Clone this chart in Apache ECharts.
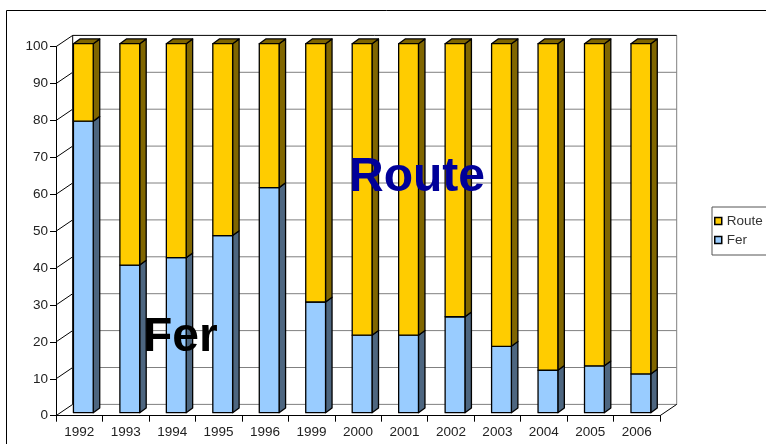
<!DOCTYPE html>
<html>
<head>
<meta charset="utf-8">
<script src="https://cdn.jsdelivr.net/npm/echarts@6/dist/echarts.min.js"></script>
<style>html,body{margin:0;padding:0;background:#fff}#c{width:766px;height:444px}</style>
</head>
<body>
<div id="c"></div>
<script>
var years = ['1992','1993','1994','1995','1996','1999','2000','2001','2002','2003','2004','2005','2006'];
var fer   = [79, 40, 42, 48, 61, 30, 21, 21, 26, 18, 11.5, 12.7, 10.5];
var route = [21, 60, 58, 52, 39, 70, 79, 79, 74, 82, 88.5, 87.3, 89.5];
var yTicks = [0,10,20,30,40,50,60,70,80,90,100];

var FONT = 'Liberation Sans, Arial, sans-serif';
var DX = 16.7, DY = -11.3;      // depth of the back wall
var SX = 6.5, SY = -4.8;        // depth of each bar
var BAR_DY = -3;
var FACE_L = -5.8, FACE_R = 14;

function wallItem(params, api) {
  var v = api.value(0);
  var bw = api.size([1, 0])[0];
  var p = api.coord([0, v]);
  var q = api.coord([years.length - 1, v]);
  var xl = p[0] - bw / 2, xr = q[0] + bw / 2, y = p[1];
  var ch = [];
  ch.push({type:'line', shape:{x1:xl, y1:y, x2:xl+DX, y2:y+DY}, style:{stroke:'#000', lineWidth:1}});
  ch.push({type:'line', shape:{x1:xl+DX, y1:y+DY, x2:xr+DX, y2:y+DY}, style:{stroke: v===100 ? '#000' : '#808080', lineWidth:1}});
  if (v === 0) {
    var t = api.coord([0, 100])[1];
    ch.push({type:'line', shape:{x1:xl+DX, y1:y+DY, x2:xl+DX, y2:t+DY}, style:{stroke:'#000', lineWidth:1}});
    ch.push({type:'line', shape:{x1:xr+DX, y1:y+DY, x2:xr+DX, y2:t+DY}, style:{stroke:'#808080', lineWidth:1}});
    ch.push({type:'line', shape:{x1:xr, y1:y, x2:xr+DX, y2:y+DY}, style:{stroke:'#000', lineWidth:1}});
  }
  return {type:'group', children:ch};
}

function makeBar(front, side) {
  return function (params, api) {
    var i = api.value(0), lo = api.value(1), hi = api.value(2);
    var p0 = api.coord([i, lo]), p1 = api.coord([i, hi]);
    var cx = p0[0], yb = p0[1] + BAR_DY, yt = p1[1] + BAR_DY;
    var xl = cx + FACE_L, xr = cx + FACE_R;
    var st = {stroke:'#000', lineWidth:1.3, lineJoin:'round'};
    var ch = [];
    ch.push({type:'polygon', shape:{points:[[xr,yb],[xr+SX,yb+SY],[xr+SX,yt+SY],[xr,yt]]},
             style:Object.assign({fill:side}, st)});
    if (hi >= 100) {
      ch.push({type:'polygon', shape:{points:[[xl,yt],[xl+SX,yt+SY],[xr+SX,yt+SY],[xr,yt]]},
               style:Object.assign({fill:side}, st)});
    }
    ch.push({type:'rect', shape:{x:xl, y:yt, width:xr-xl, height:yb-yt},
             style:Object.assign({fill:front}, st)});
    return {type:'group', children:ch};
  };
}

var ferData = fer.map(function (v, i) { return [i, 0, v]; });
var routeData = route.map(function (v, i) { return [i, fer[i], fer[i] + v]; });

var chart = echarts.init(document.getElementById('c'), null, {renderer:'canvas'});
chart.setOption({
  animation: false,
  backgroundColor: '#fff',
  textStyle: {fontFamily: FONT},
  grid: {left: 56, right: 106, top: 46.7, bottom: 28.3, containLabel: false},
  legend: {
    data: ['Route', 'Fer'],
    orient: 'vertical',
    left: 712, top: 207,
    padding: [7, 30, 8, 2],
    itemGap: 5,
    itemWidth: 7, itemHeight: 7,
    icon: 'rect',
    borderColor: '#555', borderWidth: 1,
    backgroundColor: '#fff',
    textStyle: {fontFamily: FONT, fontSize: 13.5, color: '#333'},
    itemStyle: {borderColor: '#000', borderWidth: 1.5}
  },
  xAxis: {
    type: 'category',
    data: years,
    boundaryGap: true,
    axisLine: {show: true, lineStyle: {color: '#000', width: 1}},
    axisTick: {show: true, interval: 0, length: 6, lineStyle: {color: '#000'}},
    axisLabel: {interval: 0, fontSize: 13.5, color: '#222', margin: 10, fontFamily: FONT},
    splitLine: {show: false}
  },
  yAxis: {
    type: 'value',
    min: 0, max: 100, interval: 10,
    axisLine: {show: true, lineStyle: {color: '#000', width: 1}},
    axisTick: {show: true, length: 6, lineStyle: {color: '#000'}},
    axisLabel: {fontSize: 13.5, color: '#222', margin: 8, fontFamily: FONT},
    splitLine: {show: false}
  },
  series: [
    {type:'custom', name:'walls', renderItem: wallItem, data: yTicks.map(function (v) { return [v]; }),
     encode: {x: -1, y: 0}, z: 1, silent: true},
    {type:'custom', name:'Fer', renderItem: makeBar('#99ccff', '#4d6680'), data: ferData,
     encode: {x: 0, y: [1, 2]}, itemStyle: {color: '#99ccff'}, z: 3},
    {type:'custom', name:'Route', renderItem: makeBar('#ffcc00', '#806600'), data: routeData,
     encode: {x: 0, y: [1, 2]}, itemStyle: {color: '#ffcc00'}, z: 3}
  ],
  graphic: [
    {type:'rect', shape:{x:6.5, y:10.5, width:900, height:600}, style:{fill:'none', stroke:'#000', lineWidth:1}, z: 0, silent: true},
    {type:'text', left: 143, top: 314, style:{text:'Fer', font:'bold 48px ' + FONT, fill:'#000'}, z: 10},
    {type:'text', left: 349, top: 154, style:{text:'Route', font:'bold 48px ' + FONT, fill:'#000099'}, z: 10}
  ]
});
</script>
</body>
</html>
